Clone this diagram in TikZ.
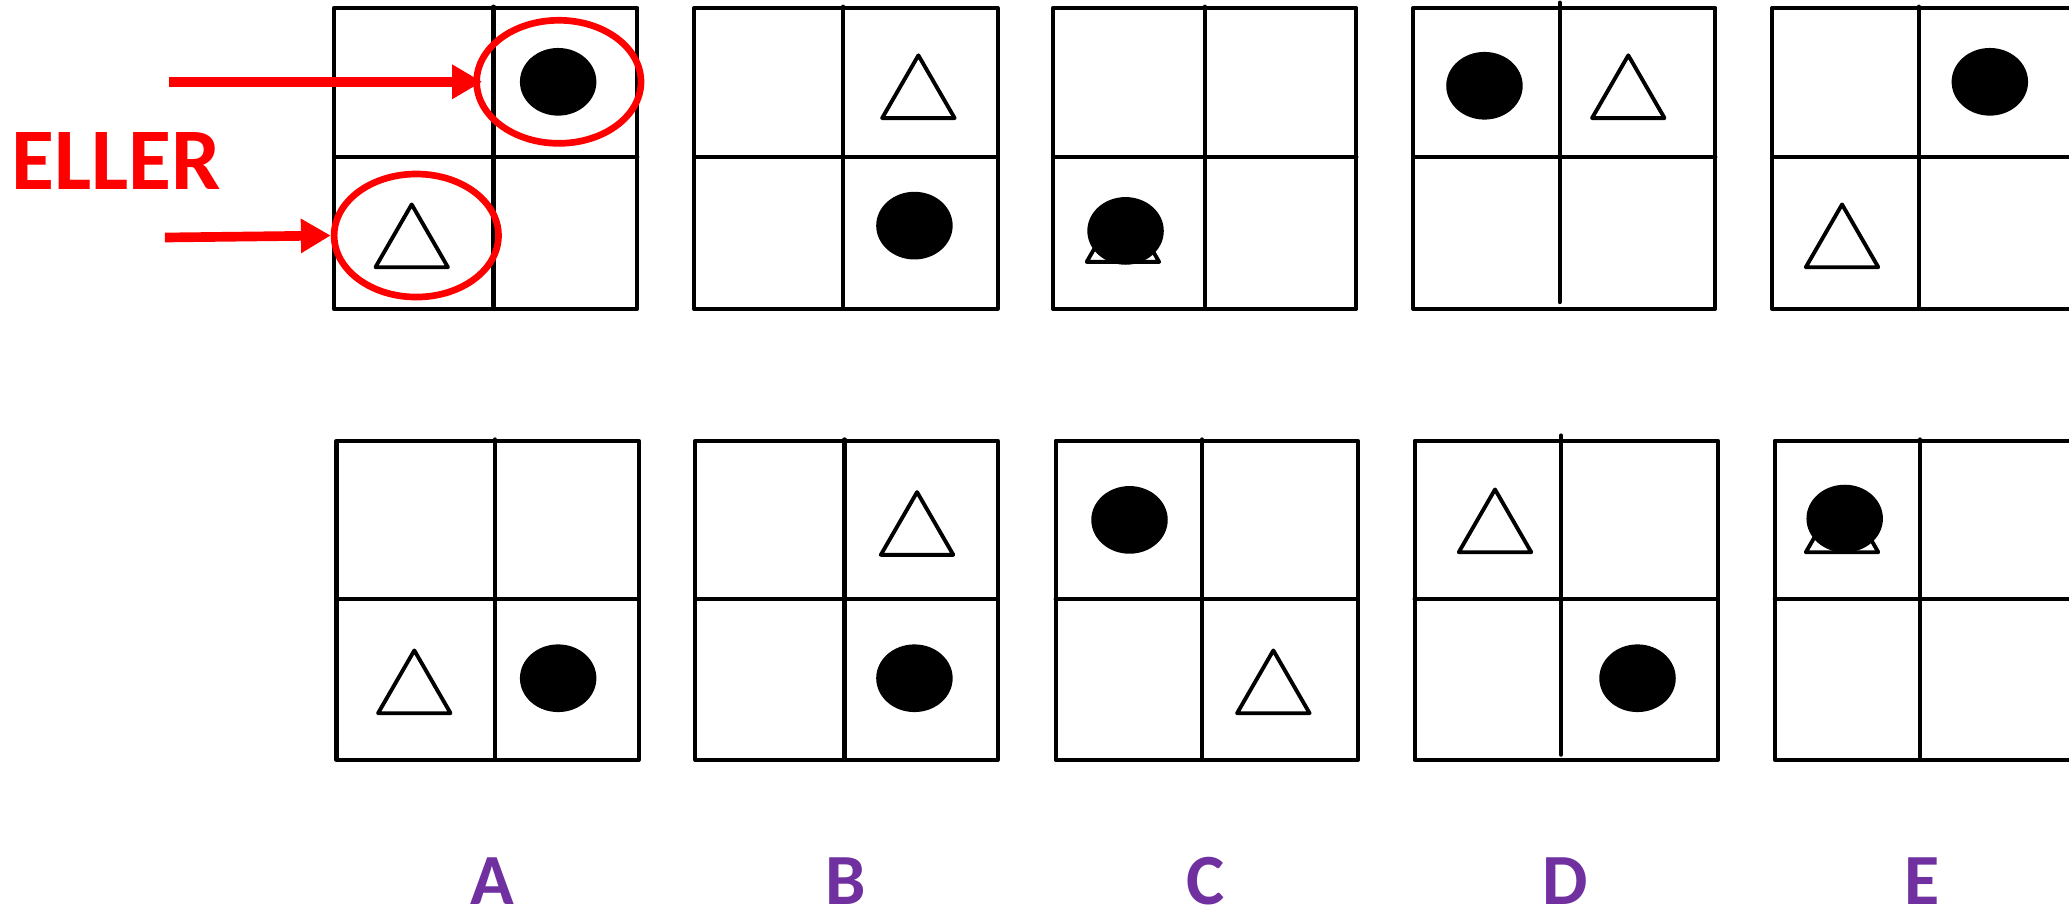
\documentclass[tikz,border=0pt]{standalone}
\usepackage{fontspec}
\newfontfamily\carlito{Carlito}
\usetikzlibrary{arrows.meta}
\usetikzlibrary{shapes.geometric}
\definecolor{optpurple}{HTML}{7030A0}

\begin{document}
\begin{tikzpicture}[
                x=0.02639cm, y=-0.02639cm,
                frame/.style={line width=2.3pt, line join=round, line cap=round},
                dot/.style={ellipse, fill=black, inner sep=0pt,
                    minimum width=43.5pt, minimum height=38.5pt},
                tri/.style={regular polygon, regular polygon sides=3, draw,
                    line width=2.2pt, line join=round, fill=white, inner sep=0pt,
                    minimum size=47.6pt, anchor=corner 1},
                ring/.style={ellipse, draw=red, line width=3.8pt, inner sep=0pt,
                    minimum width=93.5pt, minimum height=70pt},
                pointer/.style={-{Triangle[length=17pt, width=18.5pt]}, draw=red, fill=red, line width=5.5pt},
                choice/.style={font=\carlito\bfseries\fontsize{41}{41}\selectfont, text=optpurple},
            ]
            \useasboundingbox (0,0) rectangle (1568,693);
            \clip (0,0) rectangle (1568,693);

            % Grids, top row
            \foreach \l/\m in {253/374, 526/639, 798/913, 1343/1454}{
                \draw[frame] (\l,6) rectangle ++(230,228);
                \draw[frame] (\l,119) -- ++(230,0);
                \draw[frame] (\m,5) -- (\m,232);
            }
            \draw[frame] (1071,6) rectangle (1300,234);
            \draw[frame] (1071,119) -- (1300,119);
            \draw[frame] (1182,2) -- (1182,229);

            % Grids, bottom row
            \foreach \l/\m in {255/375, 527/640, 800/911, 1345/1455}{
                \draw[frame] (\l,334) rectangle ++(229,242);
                \draw[frame] (\l,454) -- ++(229,0);
                \draw[frame] (\m,333) -- (\m,574);
            }
            \draw[frame] (1072,334) rectangle (1302,576);
            \draw[frame] (1072,454) -- (1302,454);
            \draw[frame] (1183,330) -- (1183,572);

            % Triangles
            \node[tri] (tA1) at (312,152) {};
            \node[tri] (tB1) at (696,39) {};
            \node[tri] (tC1) at (851,148) {};
            \node[tri] (tD1) at (1234,39) {};
            \node[tri] (tE1) at (1396,152) {};
            \node[tri] (tA2) at (314,490) {};
            \node[tri] (tB2) at (695,370) {};
            \node[tri] (tC2) at (965,490) {};
            \node[tri] (tD2) at (1133,368) {};
            \node[tri] (tE2) at (1396,368) {};

            % Dots
            \node[dot] (dA1) at (423,62) {};
            \node[dot] (dB1) at (693,171) {};
            \node[dot] (dC1) at (853,175) {};
            \node[dot] (dD1) at (1125,65) {};
            \node[dot] (dE1) at (1508,62) {};
            \node[dot] (dA2) at (423,514) {};
            \node[dot] (dB2) at (693,514) {};
            \node[dot] (dC2) at (856,394) {};
            \node[dot] (dD2) at (1241,514) {};
            \node[dot] (dE2) at (1398,393) {};

            % Red marks
            \node[ring] (ringDot) at (423.5,62) {};
            \node[ring] (ringTri) at (315.5,178.5) {};
            \coordinate (fromDot) at (128,62);
            \coordinate (fromTri) at (125,180);
            \draw[pointer, shorten >=-5pt] (fromDot) -- (ringDot.west);
            \draw[pointer] (fromTri) -- (ringTri.west);
            \node[font=\carlito\bfseries\fontsize{50}{50}\selectfont, text=red] (eller) at (88,122) {ELLER};

            % Answer letters
            \node[choice] (optA) at (373,668) {A};
            \node[choice] (optB) at (641,668) {B};
            \node[choice] (optC) at (914,668) {C};
            \node[choice] (optD) at (1186,668) {D};
            \node[choice] (optE) at (1457,668) {E};

            \end{tikzpicture}
\end{document}
